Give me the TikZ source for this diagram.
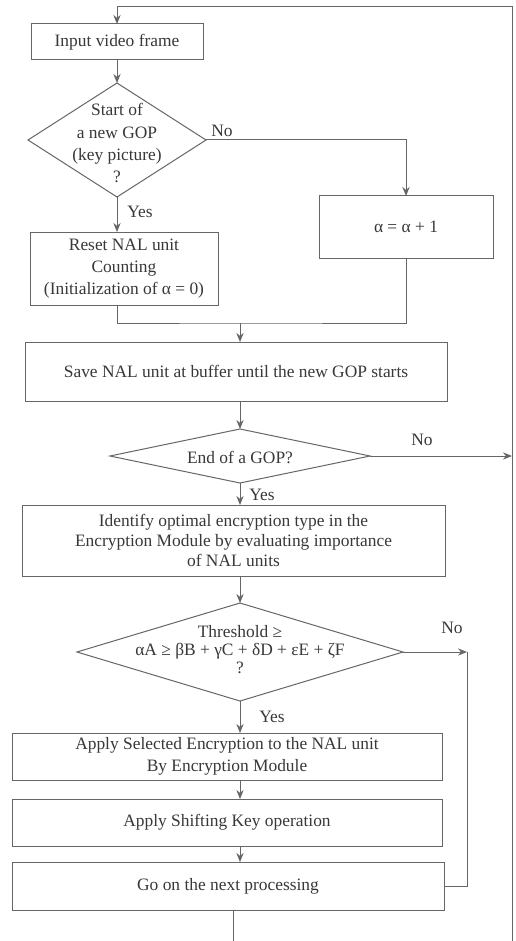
\documentclass[tikz,border=0pt]{standalone}
\usepackage{fontspec}
\setmainfont{Liberation Serif}
\usetikzlibrary{arrows.meta,shapes.geometric}
\definecolor{linec}{gray}{0.4}
\definecolor{txtc}{gray}{0.22}
\begin{document}
\begin{tikzpicture}[x=0.5pt,y=-0.5pt,
  every node/.style={text=txtc, font=\fontsize{8.7}{11}\selectfont},
  box/.style={draw=linec, line width=0.5pt, inner sep=0pt, outer sep=0pt, align=center},
  dia/.style={draw=linec, line width=0.5pt, shape=diamond, inner sep=0pt, outer sep=0pt},
  conn/.style={draw=linec, line width=0.5pt},
  arr/.style={conn, -{Stealth[length=4.5pt,width=3.6pt]}},
  lbl/.style={inner sep=0pt}]
\useasboundingbox[fill=white] (0,0) rectangle (515,941);

% boxes
\node[box, minimum width=86pt, minimum height=18pt] (inp) at (117,42) {Input video frame};
\node[dia, minimum width=89pt, minimum height=57pt] (d1) at (117,140) {};
\node[align=center] (d1t) at (117,143) {Start of\\a new GOP\\(key picture)\\?};
\node[box, minimum width=87pt, minimum height=31pt] (alpha) at (406,227) {α = α + 1};
\node[box, minimum width=94pt, minimum height=36.5pt] (reset) at (124,268.5) {Reset NAL unit\\Counting\\(Initialization of α = 0)};
\node[box, minimum width=211pt, minimum height=29.5pt] (save) at (236,371.5) {Save NAL unit at buffer until the new GOP starts};
\node[dia, minimum width=130pt, minimum height=27pt] (d2) at (240,456) {};
\node (d2t) at (240,457) {End of a GOP?};
\node[box, minimum width=211.5pt, minimum height=35.5pt, font=\fontsize{8.7}{10}\selectfont] (ident) at (233.5,540.5) {Identify optimal encryption type in the\\Encryption Module by evaluating importance\\of NAL units};
\node[dia, minimum width=163pt, minimum height=49pt] (d3) at (240,652) {};
\node[align=center, font=\fontsize{8.7}{9}\selectfont] (d3t) at (240,650) {Threshold ≥\\αA ≥ βB + γC + δD + εE + ζF\\?};
\node[box, minimum width=215pt, minimum height=23.5pt] (apply) at (227,756.5) {Apply Selected Encryption to the NAL unit\\By Encryption Module};
\node[box, minimum width=215pt, minimum height=23.5pt] (shift) at (227,822.5) {Apply Shifting Key operation};
\node[box, minimum width=216pt, minimum height=24pt] (go) at (228,886) {Go on the next processing};

% labels
\node[lbl] (no1) at (222,131) {No};
\node[lbl] (yes1) at (140,212) {Yes};
\node[lbl] (no2) at (422,440) {No};
\node[lbl] (yes2) at (262,495) {Yes};
\node[lbl] (no3) at (452,628) {No};
\node[lbl] (yes3) at (272,717) {Yes};

% coordinates
\coordinate (rb) at (512,941);
\coordinate (tr) at (512,7);
\coordinate (m) at (240,323);
\coordinate (r3) at (467,652);
\coordinate (bot) at (233,941);

% connectors
\draw[arr] (rb) -- (tr) -| (inp.north);
\draw[arr] (inp.south) -- (d1.north);
\draw[arr] (d1.east) -| (alpha.north);
\draw[arr] (d1.south) -- (d1.south |- reset.north);
\draw[conn] (reset.south -| d1.south) |- (m) -| (alpha.south);
\draw[arr] (m) -- (m |- save.north);
\draw[arr] (save.south -| d2.north) -- (d2.north);
\draw[arr] (d2.east) -- (d2.east -| rb);
\draw[arr] (d2.south) -- (d2.south |- ident.north);
\draw[arr] (ident.south -| d3.north) -- (d3.north);
\draw[arr] (d3.east) -- (r3);
\draw[conn] (r3) |- (go.east);
\draw[arr] (d3.south) -- (d3.south |- apply.north);
\draw[arr] (apply.south -| d3.south) -- (d3.south |- shift.north);
\draw[arr] (shift.south -| d3.south) -- (d3.south |- go.north);
\draw[conn] (bot |- go.south) -- (bot);
\end{tikzpicture}
\end{document}
